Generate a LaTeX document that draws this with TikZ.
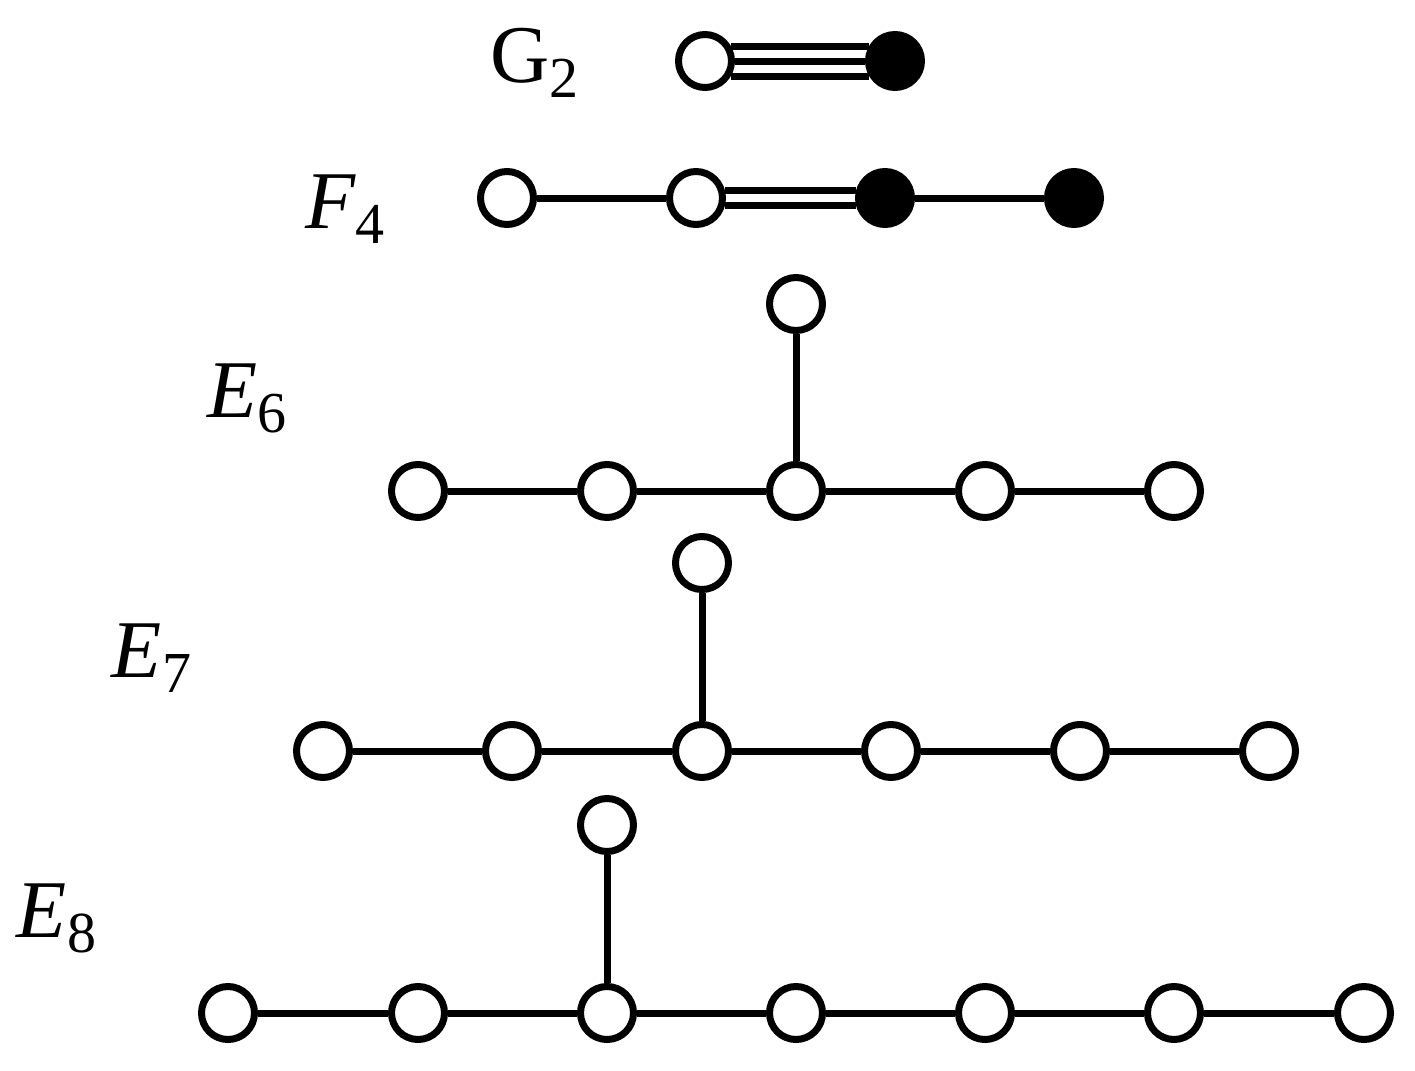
\documentclass[tikz,border=0pt]{standalone}
\usepackage{fontspec}
\setmainfont{Liberation Serif}
\newcommand{\dynlbl}[3]{{\fontsize{41}{41}\selectfont #1{#2}}\raisebox{-7.5pt}{\fontsize{29}{29}\selectfont #3}}
\begin{document}
\begin{tikzpicture}[x=0.5pt,y=-0.5pt,
  dot/.style={circle,draw=black,line width=3.5pt,minimum size=26.5pt,inner sep=0pt,fill=white},
  fdot/.style={dot,fill=black},
  edge/.style={line width=3.5pt,black},
  lbl/.style={anchor=base west,inner sep=0pt,outer sep=0pt}]
\useasboundingbox (0,0) rectangle (1415,1071);
% labels
\node[lbl] (lG) at (490,82) {\dynlbl{\relax}{G}{2}};
\node[lbl] (lF) at (305,228) {\dynlbl{\itshape}{F}{4}};
\node[lbl] (lE6) at (207,417) {\dynlbl{\itshape}{E}{6}};
\node[lbl] (lE7) at (112,677) {\dynlbl{\itshape}{E}{7}};
\node[lbl] (lE8) at (17,937) {\dynlbl{\itshape}{E}{8}};
% G2
\node[dot] (g1) at (705,61) {};
\node[fdot] (g2) at (895,61) {};
\draw[edge] (g1.30) -- (g2.150);
\draw[edge] (g1) -- (g2);
\draw[edge] (g1.-30) -- (g2.-150);
% F4
\node[dot] (f1) at (507,198) {};
\node[dot] (f2) at (696,198) {};
\node[fdot] (f3) at (885,198) {};
\node[fdot] (f4) at (1074,198) {};
\draw[edge] (f1) -- (f2);
\draw[edge] (f2.14) -- (f3.166);
\draw[edge] (f2.-14) -- (f3.-166);
\draw[edge] (f3) -- (f4);
% E6
\node[dot] (a0) at (796,304) {};
\node[dot] (a1) at (418,491) {};
\node[dot] (a2) at (607,491) {};
\node[dot] (a3) at (796,491) {};
\node[dot] (a4) at (985,491) {};
\node[dot] (a5) at (1174,491) {};
\draw[edge] (a1) -- (a2);
\draw[edge] (a2) -- (a3);
\draw[edge] (a3) -- (a4);
\draw[edge] (a4) -- (a5);
\draw[edge] (a0) -- (a3);
% E7
\node[dot] (b0) at (702,563) {};
\node[dot] (b1) at (323,751) {};
\node[dot] (b2) at (512,751) {};
\node[dot] (b3) at (702,751) {};
\node[dot] (b4) at (891,751) {};
\node[dot] (b5) at (1080,751) {};
\node[dot] (b6) at (1269,751) {};
\draw[edge] (b1) -- (b2);
\draw[edge] (b2) -- (b3);
\draw[edge] (b3) -- (b4);
\draw[edge] (b4) -- (b5);
\draw[edge] (b5) -- (b6);
\draw[edge] (b0) -- (b3);
% E8
\node[dot] (c0) at (607,825) {};
\node[dot] (c1) at (228,1013) {};
\node[dot] (c2) at (418,1013) {};
\node[dot] (c3) at (607,1013) {};
\node[dot] (c4) at (796,1013) {};
\node[dot] (c5) at (985,1013) {};
\node[dot] (c6) at (1174,1013) {};
\node[dot] (c7) at (1364,1013) {};
\draw[edge] (c1) -- (c2);
\draw[edge] (c2) -- (c3);
\draw[edge] (c3) -- (c4);
\draw[edge] (c4) -- (c5);
\draw[edge] (c5) -- (c6);
\draw[edge] (c6) -- (c7);
\draw[edge] (c0) -- (c3);
\end{tikzpicture}
\end{document}
